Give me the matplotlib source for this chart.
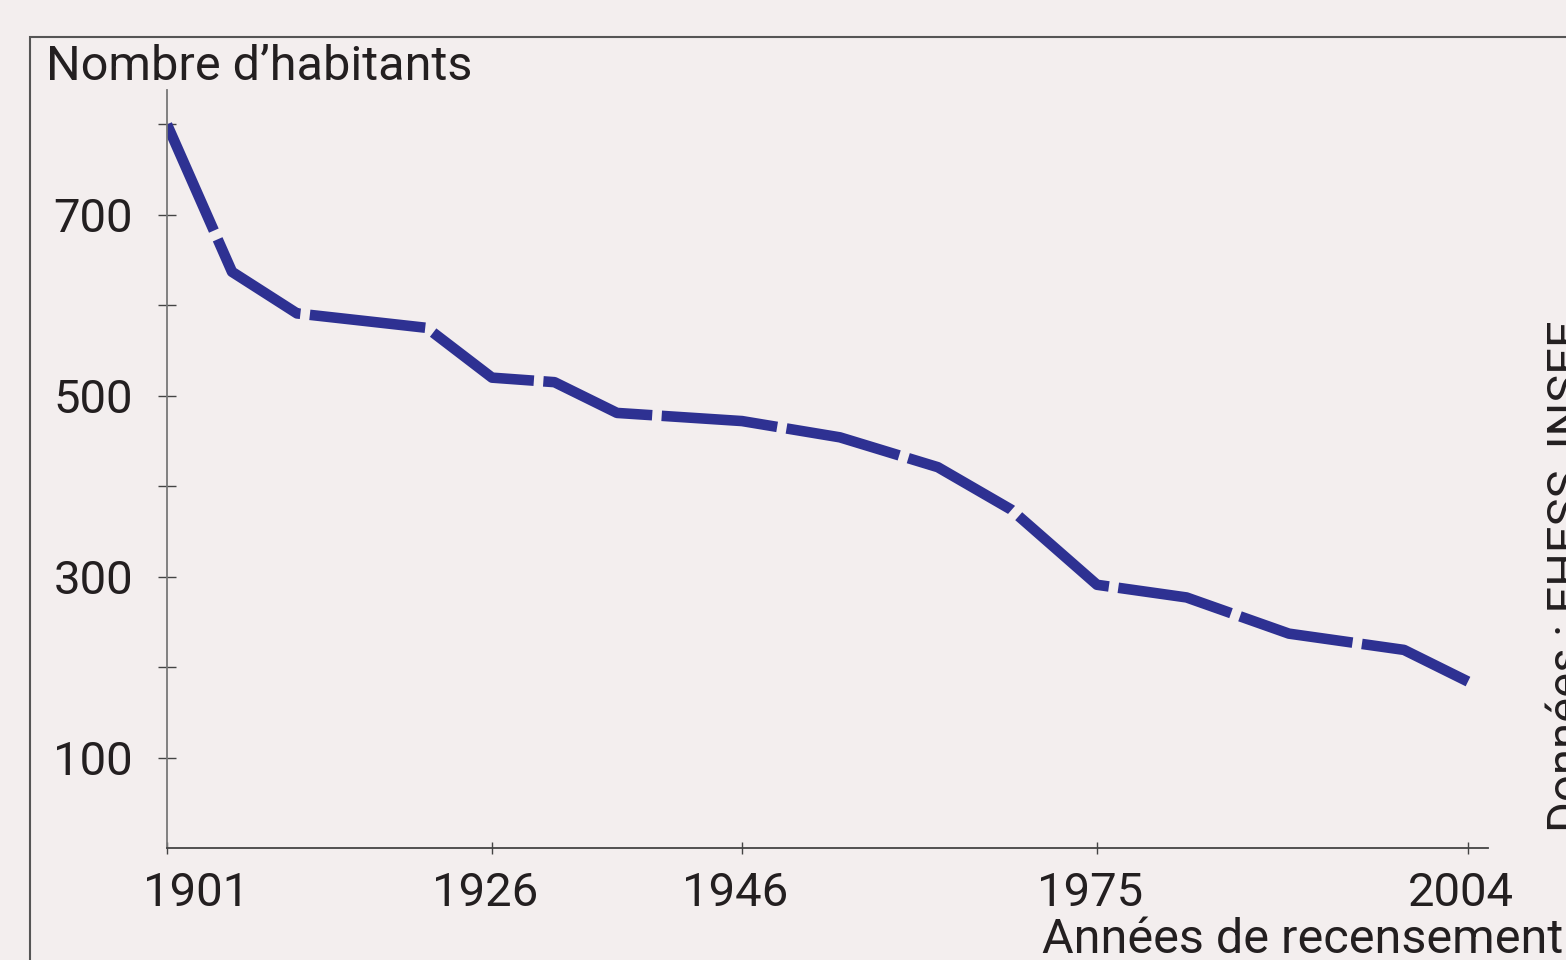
import matplotlib
matplotlib.use('Agg')
import numpy as np
import matplotlib.pyplot as plt
import matplotlib.transforms as mtransforms
from matplotlib.patches import Rectangle

# census years and population
years = [1901, 1906, 1911, 1921, 1926, 1931, 1936, 1946, 1954, 1962, 1968, 1975, 1982, 1990, 1999, 2004]
population = [800, 637, 591, 575, 520, 515, 481, 472, 454, 421, 374, 291, 277, 237, 219, 184]

xtick_years = [1901, 1926, 1946, 1975, 2004]
ytick_major = [100, 300, 500, 700]
ytick_minor = [200, 400, 600, 800]

# the hand-drawn year axis is not quite linear: spacing between labelled years
axis_anchor = [1901, 1926, 1946, 1975, 2004, 2010]
axis_pos = [0, 325, 575, 930, 1301, 1378]

bg = '#f3eeee'
blue = '#2e3192'
txt = '#231f20'

plt.rcParams['font.family'] = ['Roboto', 'DejaVu Sans']


def fwd(x):
    return np.interp(x, axis_anchor, axis_pos)


def inv(x):
    return np.interp(x, axis_pos, axis_anchor)


fig = plt.figure(figsize=(15.66, 9.6), dpi=100, facecolor=bg)
ax = fig.add_axes([167/1566, 1 - 848/960, (1488 - 167)/1566, (848 - 90)/960])
ax.set_facecolor(bg)
ax.set_xscale('function', functions=(fwd, inv))

ax.plot(years, population, color=blue, lw=7.6, dashes=(11, 0.9),
        solid_capstyle='butt', dash_capstyle='butt', solid_joinstyle='miter')

ax.set_xlim(1901, inv(1321))
ax.set_ylim(0, 838)

for s in ['top', 'right']:
    ax.spines[s].set_visible(False)
ax.spines['left'].set_color('#777777')
ax.spines['bottom'].set_color('#444444')
ax.spines['left'].set_linewidth(1.3)
ax.spines['bottom'].set_linewidth(1.3)

ax.set_xticks(xtick_years)
ax.set_xticklabels([str(y) for y in xtick_years])
ax.xaxis.set_minor_locator(matplotlib.ticker.NullLocator())
ax.set_yticks(ytick_major)
ax.set_yticks(ytick_minor, minor=True)
ax.set_yticklabels([str(v) for v in ytick_major])

ax.tick_params(axis='y', which='both', direction='inout', length=13, width=1,
               color='#444444', pad=18, labelsize=34, labelcolor=txt)
ax.tick_params(axis='x', which='both', direction='inout', length=9, width=1,
               color='#444444', pad=12, labelsize=34, labelcolor=txt)

# shift the first year label to the right, as in the original
labels = ax.get_xticklabels()
labels[0].set_transform(labels[0].get_transform() +
                        mtransforms.ScaledTranslation(0.29, 0, fig.dpi_scale_trans))
for lab in labels[1:]:
    lab.set_transform(lab.get_transform() +
                      mtransforms.ScaledTranslation(-0.07, 0, fig.dpi_scale_trans))

# frame around the chart (cut by the image edges)
fig.patches.append(Rectangle((30/1566, -0.2), 1.2, 1.2 - 37/960,
                             transform=fig.transFigure, fill=False,
                             edgecolor='#555555', lw=1.5))

fig.text(46/1566, 1 - 80/960, "Nombre d\u2019habitants", fontsize=35,
         color=txt, ha='left', va='baseline')
fig.text(1042/1566, 1 - 953/960, "Années de recensement", fontsize=35,
         color=txt, ha='left', va='baseline')
fig.text(1581/1566, 1 - 832/960, "Données : EHESS, INSEE", fontsize=34,
         color=txt, rotation=90, rotation_mode='anchor',
         ha='left', va='baseline')

fig.savefig('out.png', dpi=100, facecolor=bg)
